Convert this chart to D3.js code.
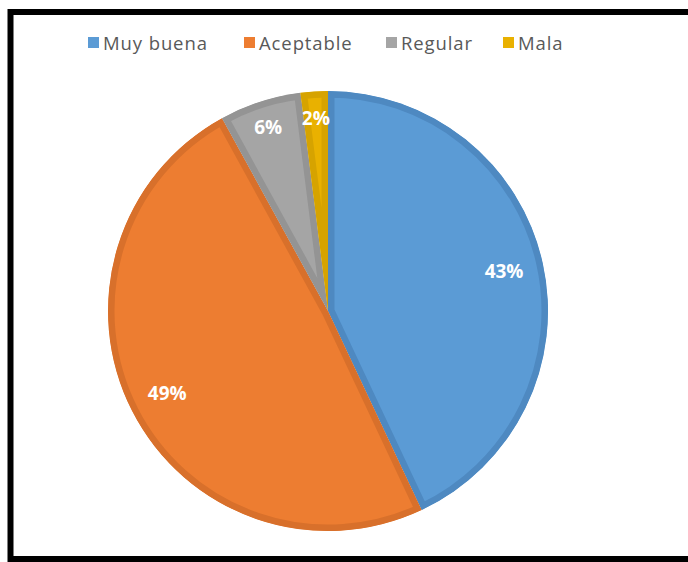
<!DOCTYPE html>
<html>
<head>
<meta charset="utf-8">
<script src="https://cdn.jsdelivr.net/npm/d3@7"></script>
<style>
  html, body { margin: 0; padding: 0; background: #fff; }
  svg { display: block; }
</style>
</head>
<body>
<svg id="chart" width="688" height="562"></svg>
<script>
// Survey answers and their shares (percent)
const categories = ["Muy buena", "Aceptable", "Regular", "Mala"];
const values = [43, 49, 6, 2];
const fillColors = ["#5B9BD5", "#ED7D31", "#A5A5A5", "#E9B100"];
const edgeColors = ["#4E89C1", "#D8702B", "#949494", "#D6A300"];

const svg = d3.select("#chart");

// Outer frame
svg.append("rect")
  .attr("x", 10.5).attr("y", 12).attr("width", 700).attr("height", 547)
  .attr("fill", "#fff").attr("stroke", "#000").attr("stroke-width", 6);

const data = categories.map((c, i) => ({ cat: c, value: values[i], i }));

// Legend
const legendX = [88, 244, 386, 503];
const legend = svg.append("g");
data.forEach((d, i) => {
  const g = legend.append("g").attr("transform", `translate(${legendX[i]},37)`);
  g.append("rect").attr("width", 11).attr("height", 11).attr("fill", fillColors[i]);
  g.append("text")
    .attr("x", 15).attr("y", 12.5)
    .attr("font-family", "'Open Sans', sans-serif")
    .attr("font-size", 18.5)
    .attr("letter-spacing", 0.9)
    .attr("fill", "#595959")
    .text(d.cat);
});

// Pie
const cx = 328, cy = 311, r = 220, border = 6.5;
const pie = d3.pie().value(d => d.value).sort(null);
const arc = d3.arc().innerRadius(0).outerRadius(r);
const arcs = pie(data);

const g = svg.append("g").attr("transform", `translate(${cx},${cy})`);
const defs = svg.append("defs");

arcs.forEach((a, i) => {
  defs.append("clipPath").attr("id", "clip" + i)
    .append("path").attr("d", arc(a));
});

g.selectAll("path.slice")
  .data(arcs)
  .join("path")
  .attr("class", "slice")
  .attr("d", arc)
  .attr("fill", d => fillColors[d.data.i])
  .attr("stroke", d => edgeColors[d.data.i])
  .attr("stroke-width", border * 2)
  .attr("stroke-linejoin", "miter")
  .attr("clip-path", d => `url(#clip${d.data.i})`);

// Percentage labels
const labelRadius = [0.82, 0.82, 0.88, 0.88];
g.selectAll("text.lbl")
  .data(arcs)
  .join("text")
  .attr("class", "lbl")
  .attr("transform", d => {
    const lr = r * labelRadius[d.data.i];
    const a = (d.startAngle + d.endAngle) / 2;
    return `translate(${Math.sin(a) * lr},${-Math.cos(a) * lr})`;
  })
  .attr("text-anchor", "middle")
  .attr("dy", "0.36em")
  .attr("font-family", "'Open Sans', sans-serif")
  .attr("font-weight", "bold")
  .attr("font-size", 19)
  .attr("fill", "#fff")
  .text(d => d.data.value + "%");
</script>
</body>
</html>
